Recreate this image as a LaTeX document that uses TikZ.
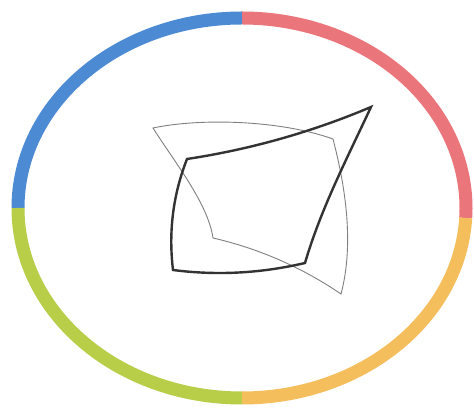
\documentclass[tikz,border=0pt]{standalone}
\begin{document}
\begin{tikzpicture}[x=1pt,y=1pt,
  ring/.style={line width=13pt,line cap=butt},
  thinshape/.style={line width=0.9pt,draw=black!50,line join=miter},
  thickshape/.style={line width=2.4pt,draw=black!80,line join=miter}]
\definecolor{rblue}{RGB}{76,138,212}
\definecolor{rred}{RGB}{234,117,122}
\definecolor{rorange}{RGB}{245,190,92}
\definecolor{rgreen}{RGB}{184,206,72}
\useasboundingbox[fill=white] (0,0) rectangle (474,411);
\coordinate (O) at (242,203);
% coloured ring
\draw[ring,rred] (O) ++(-3:224 and 190) arc[start angle=-3,end angle=90,x radius=224pt,y radius=190pt];
\draw[ring,rblue] (O) ++(90:224 and 190) arc[start angle=90,end angle=180,x radius=224pt,y radius=190pt];
\draw[ring,rgreen] (O) ++(180:224 and 190) arc[start angle=180,end angle=270,x radius=224pt,y radius=190pt];
\draw[ring,rorange] (O) ++(270:224 and 190) arc[start angle=270,end angle=357,x radius=224pt,y radius=190pt];
% thin curved quadrilateral
\coordinate (A) at (153,283);
\coordinate (B) at (333,272);
\coordinate (C) at (341,117);
\coordinate (D) at (213,173);
\draw[thinshape] (A) .. controls (200,293) and (280,291) .. (B)
  .. controls (346,222) and (354,166) .. (C)
  .. controls (301.8,143.7) and (259.2,162.3) .. (D)
  .. controls (208,208) and (173,251) .. (A) -- cycle;
% thick curved quadrilateral
\coordinate (E) at (187,252);
\coordinate (F) at (371,304);
\coordinate (G) at (305,148);
\coordinate (H) at (173,141);
\draw[thickshape] (E) .. controls (250.5,261.6) and (311.9,279) .. (F)
  .. controls (347,252.5) and (321,202.5) .. (G)
  .. controls (261,137.7) and (217,135.3) .. (H)
  .. controls (168.4,179.2) and (173,216.2) .. (E) -- cycle;
\end{tikzpicture}
\end{document}
